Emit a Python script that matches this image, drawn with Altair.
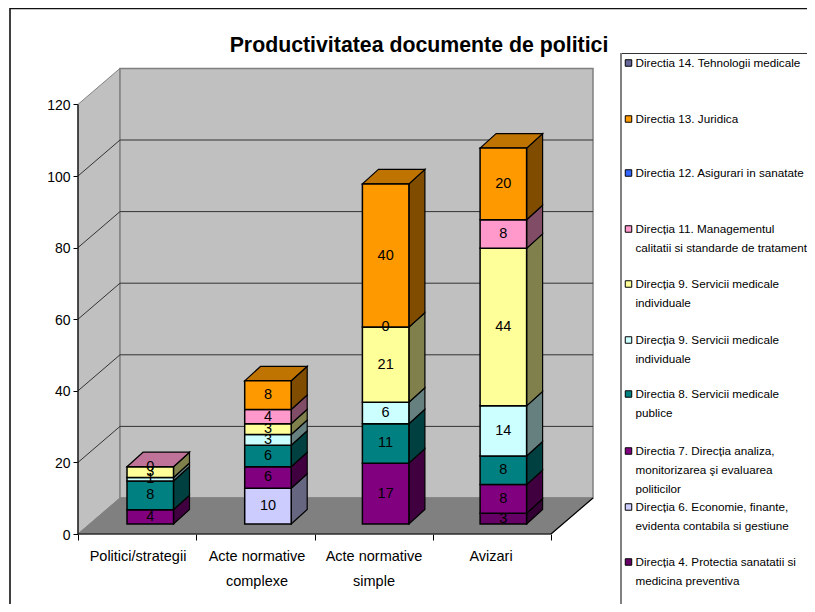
import altair as alt
import pandas as pd

TITLE = "Productivitatea documente de politici"
categories = [["Politici/strategii"], ["Acte normative", "complexe"], ["Acte normative", "simple"], ["Avizari"]]
y_ticks = [0, 20, 40, 60, 80, 100, 120]
x_ticks = [0, 1, 2, 3, 4]

# stacking order, bottom to top
d4 = [None, None, None, 3]
d6 = [None, 10, None, None]
d7 = [4, 6, 17, 8]
d8 = [8, 6, 11, 8]
d9a = [1, 3, 6, 14]
d9b = [3, 3, 21, 44]
d11 = [0, 4, 0, 8]
d13 = [None, 8, 40, 20]
stack_values = [d4, d6, d7, d8, d9a, d9b, d11, d13]
stack_colors = ["#660066", "#CCCCFF", "#800080", "#008080", "#CCFFFF", "#FFFF99", "#FF99CC", "#FF9900"]

legend_lines = [
    ["Directia 14. Tehnologii medicale"],
    ["Directia 13. Juridica"],
    ["Directia 12. Asigurari in sanatate"],
    ["Direcția 11. Managementul", "calitatii si standarde de tratament"],
    ["Direcția 9. Servicii medicale", "individuale"],
    ["Direcția 9. Servicii medicale", "individuale"],
    ["Directia 8. Servicii medicale", "publice"],
    ["Directia 7. Direcția analiza,", "monitorizarea şi evaluarea", "politicilor"],
    ["Direcția 6. Economie, finante,", "evidenta contabila si gestiune"],
    ["Direcția 4. Protectia sanatatii si", "medicina preventiva"],
]
legend_colors = ["#666699", "#FF9900", "#3366FF", "#FF99CC", "#FFFF99", "#CCFFFF", "#008080", "#800080", "#CCCCFF", "#660066"]

# ---------- layout (picture pixels -> chart units) ----------
FONT = "Liberation Sans"
PX_U, PX_V = 118.25, 3.58
RIGHT_PX, BOTTOM_PX = 807, 604
to_u = lambda px: (px - 78) / PX_U
to_v = lambda py: (534 - py) / PX_V
X_SCALE = alt.Scale(domain=[to_u(8), to_u(RIGHT_PX)], nice=False, zero=False)
Y_SCALE = alt.Scale(domain=[to_v(BOTTOM_PX), to_v(8)], nice=False, zero=False)
WALL_DU, WALL_DV = 42 / PX_U, 36 / PX_V
BAR_L, BAR_W, BAR_STEP = 49 / PX_U, 46.5 / PX_U, 117.7 / PX_U
BAR_DU, BAR_DV = 16 / PX_U, 14.5 / PX_V
BAR_BASE = 10 / PX_V
LEG_TOPS = [63, 119, 173, 229, 284, 340, 394, 451, 507, 562]
LEG_STEP = 19
CAT_CENTERS = [138, 257, 374, 491]

AX_X = alt.Axis(values=x_ticks, orient="bottom", offset=-(BOTTOM_PX - 534), domain=False, grid=False, title=None,
                tickSize=6, tickColor="black", tickWidth=1, labels=False)
AX_Y = alt.Axis(values=y_ticks, orient="left", offset=-70, domain=False, grid=False, title=None,
                tickSize=5, tickColor="black", tickWidth=1, labelColor="black", labelFont=FONT,
                labelFontSize=14, labelPadding=3, labelOffset=1, format="d")


def shade(c, k):
    return "#%02X%02X%02X" % tuple(round(int(c[i:i + 2], 16) * k) for i in (1, 3, 5))


front, side, top, labels = [], [], [], []
for i in range(4):
    v = BAR_BASE
    x0 = i * BAR_STEP + BAR_L
    x1 = x0 + BAR_W
    last = None
    for vals, col in zip(stack_values, stack_colors):
        val = vals[i]
        if val is None:
            continue
        front.append(dict(x=x0, x2=x1, y=v, y2=v + val, fill=col))
        fid = f"{i}-{col}"
        side.append(dict(id=fid, x=x1, y=v, y2=v + val, fill=shade(col, 0.5)))
        side.append(dict(id=fid, x=x1 + BAR_DU, y=v + BAR_DV, y2=v + val + BAR_DV, fill=shade(col, 0.5)))
        labels.append(dict(x=(x0 + x1) / 2, y=v + val / 2, t=str(val)))
        v += val
        last = col
    fid = str(i)
    top.append(dict(id=fid, y=v, x=x0, x2=x1, fill=shade(last, 0.75)))
    top.append(dict(id=fid, y=v + BAR_DV, x=x0 + BAR_DU, x2=x1 + BAR_DU, fill=shade(last, 0.75)))

X = alt.X("x:Q", scale=X_SCALE, axis=AX_X)
Y = alt.Y("y:Q", scale=Y_SCALE, axis=AX_Y)
TOPV = y_ticks[-1]
x_right = len(categories)

# walls and floor
left_wall = alt.Chart(pd.DataFrame([
    dict(x=0, y=0, y2=TOPV), dict(x=WALL_DU, y=WALL_DV, y2=TOPV + WALL_DV)
])).mark_area(fill="#C0C0C0", stroke="#808080", strokeWidth=1).encode(X, Y, y2="y2:Q")
back_wall = alt.Chart(pd.DataFrame([
    dict(x=WALL_DU, x2=x_right + WALL_DU, y=WALL_DV, y2=TOPV + WALL_DV)
])).mark_rect(fill="#C0C0C0", stroke="#808080", strokeWidth=1.5).encode(X, x2="x2:Q", y=Y, y2="y2:Q")
floor = alt.Chart(pd.DataFrame([
    dict(y=0, x=0, x2=x_right), dict(y=WALL_DV, x=WALL_DU, x2=x_right + WALL_DU)
])).mark_area(orient="horizontal", fill="#808080", stroke="#808080", strokeWidth=1).encode(
    Y, X, x2="x2:Q")

grid_rows = []
for t in y_ticks[1:]:
    grid_rows += [dict(id=t, o=0, x=0, y=t), dict(id=t, o=1, x=WALL_DU, y=t + WALL_DV),
                  dict(id=t, o=2, x=x_right + WALL_DU, y=t + WALL_DV)]
grid = alt.Chart(pd.DataFrame([r for r in grid_rows if r["id"] != TOPV])).mark_line(
    color="#333333", strokeWidth=1).encode(X, Y, detail="id:N", order="o:Q")

edges = pd.DataFrame([
    dict(id="a", o=0, x=0, y=0), dict(id="a", o=1, x=0, y=TOPV),
    dict(id="b", o=0, x=0, y=0), dict(id="b", o=1, x=x_right, y=0),
    dict(id="c", o=0, x=x_right, y=0), dict(id="c", o=1, x=x_right + WALL_DU, y=WALL_DV),
])
edge_lines = alt.Chart(edges).mark_line(color="black", strokeWidth=1.2).encode(X, Y, detail="id:N", order="o:Q")

# bars
front_l = alt.Chart(pd.DataFrame(front)).mark_rect(stroke="black", strokeWidth=1.5).encode(
    X, x2="x2:Q", y=Y, y2="y2:Q", fill=alt.Fill("fill:N", scale=None))
side_l = alt.Chart(pd.DataFrame(side)).mark_area(stroke="black", strokeWidth=1.2).encode(
    X, Y, y2="y2:Q", detail="id:N", fill=alt.Fill("fill:N", scale=None))
top_l = alt.Chart(pd.DataFrame(top)).mark_area(orient="horizontal", stroke="black", strokeWidth=1.2).encode(
    Y, X, x2="x2:Q", detail="id:N", fill=alt.Fill("fill:N", scale=None))
val_l = alt.Chart(pd.DataFrame(labels)).mark_text(font=FONT, fontSize=14.5, color="black", baseline="middle").encode(
    X, Y, text="t:N")

# category labels
cat_rows = []
for i, lines in enumerate(categories):
    for j, s in enumerate(lines):
        cat_rows.append(dict(x=to_u(CAT_CENTERS[i]), y=to_v(556.5 + j * 25), t=s))
cat_l = alt.Chart(pd.DataFrame(cat_rows)).mark_text(font=FONT, fontSize=14.5, color="black", baseline="middle").encode(
    X, Y, text="t:N")

title_l = alt.Chart(pd.DataFrame([dict(x=to_u(419), y=to_v(45.5), t=TITLE)])).mark_text(
    font=FONT, fontSize=21.3, fontWeight="bold", color="black", baseline="middle").encode(X, Y, text="t:N")

# chart frame, legend frame
frame = alt.Chart(pd.DataFrame([
    dict(id="f", o=0, x=to_u(RIGHT_PX), y=to_v(8.5)), dict(id="f", o=1, x=to_u(10), y=to_v(8.5)),
    dict(id="f", o=2, x=to_u(10), y=to_v(BOTTOM_PX)),
])).mark_line(color="#111111", strokeWidth=1.6).encode(X, Y, detail="id:N", order="o:Q")
leg_top = alt.Chart(pd.DataFrame([
    dict(id="t", o=0, x=to_u(621), y=to_v(53.5)), dict(id="t", o=1, x=to_u(RIGHT_PX), y=to_v(53.5)),
])).mark_line(color="#333333", strokeWidth=1).encode(X, Y, detail="id:N", order="o:Q")
leg_left = alt.Chart(pd.DataFrame([
    dict(id="l", o=0, x=to_u(621), y=to_v(53)), dict(id="l", o=1, x=to_u(621), y=to_v(BOTTOM_PX)),
])).mark_line(color="#808080", strokeWidth=2).encode(X, Y, detail="id:N", order="o:Q")

# legend
leg_rows, sw_rows = [], []
for top_y, lines, col in zip(LEG_TOPS, legend_lines, legend_colors):
    sw_rows.append(dict(x=to_u(628.5), y=to_v(top_y), fill=col))
    for j, s in enumerate(lines):
        leg_rows.append(dict(x=to_u(635.5), y=to_v(top_y + j * LEG_STEP), t=s))
leg_txt = alt.Chart(pd.DataFrame(leg_rows)).mark_text(
    font=FONT, fontSize=11.7, color="black", align="left", baseline="middle").encode(X, Y, text="t:N")
leg_sw = alt.Chart(pd.DataFrame(sw_rows)).mark_square(size=42, stroke="black", strokeWidth=1, opacity=1).encode(
    X, Y, fill=alt.Fill("fill:N", scale=None))

chart = alt.layer(
    frame, left_wall, back_wall, floor, grid, edge_lines,
    side_l, top_l, front_l, val_l, cat_l, title_l, leg_top, leg_left, leg_sw, leg_txt,
).properties(
    width=RIGHT_PX - 8, height=BOTTOM_PX - 8, padding=0, autosize=alt.AutoSizeParams(type="none"),
    background="white",
).configure_view(stroke=None)

chart.save("out.html", embed_options={"renderer": "svg", "actions": False})
